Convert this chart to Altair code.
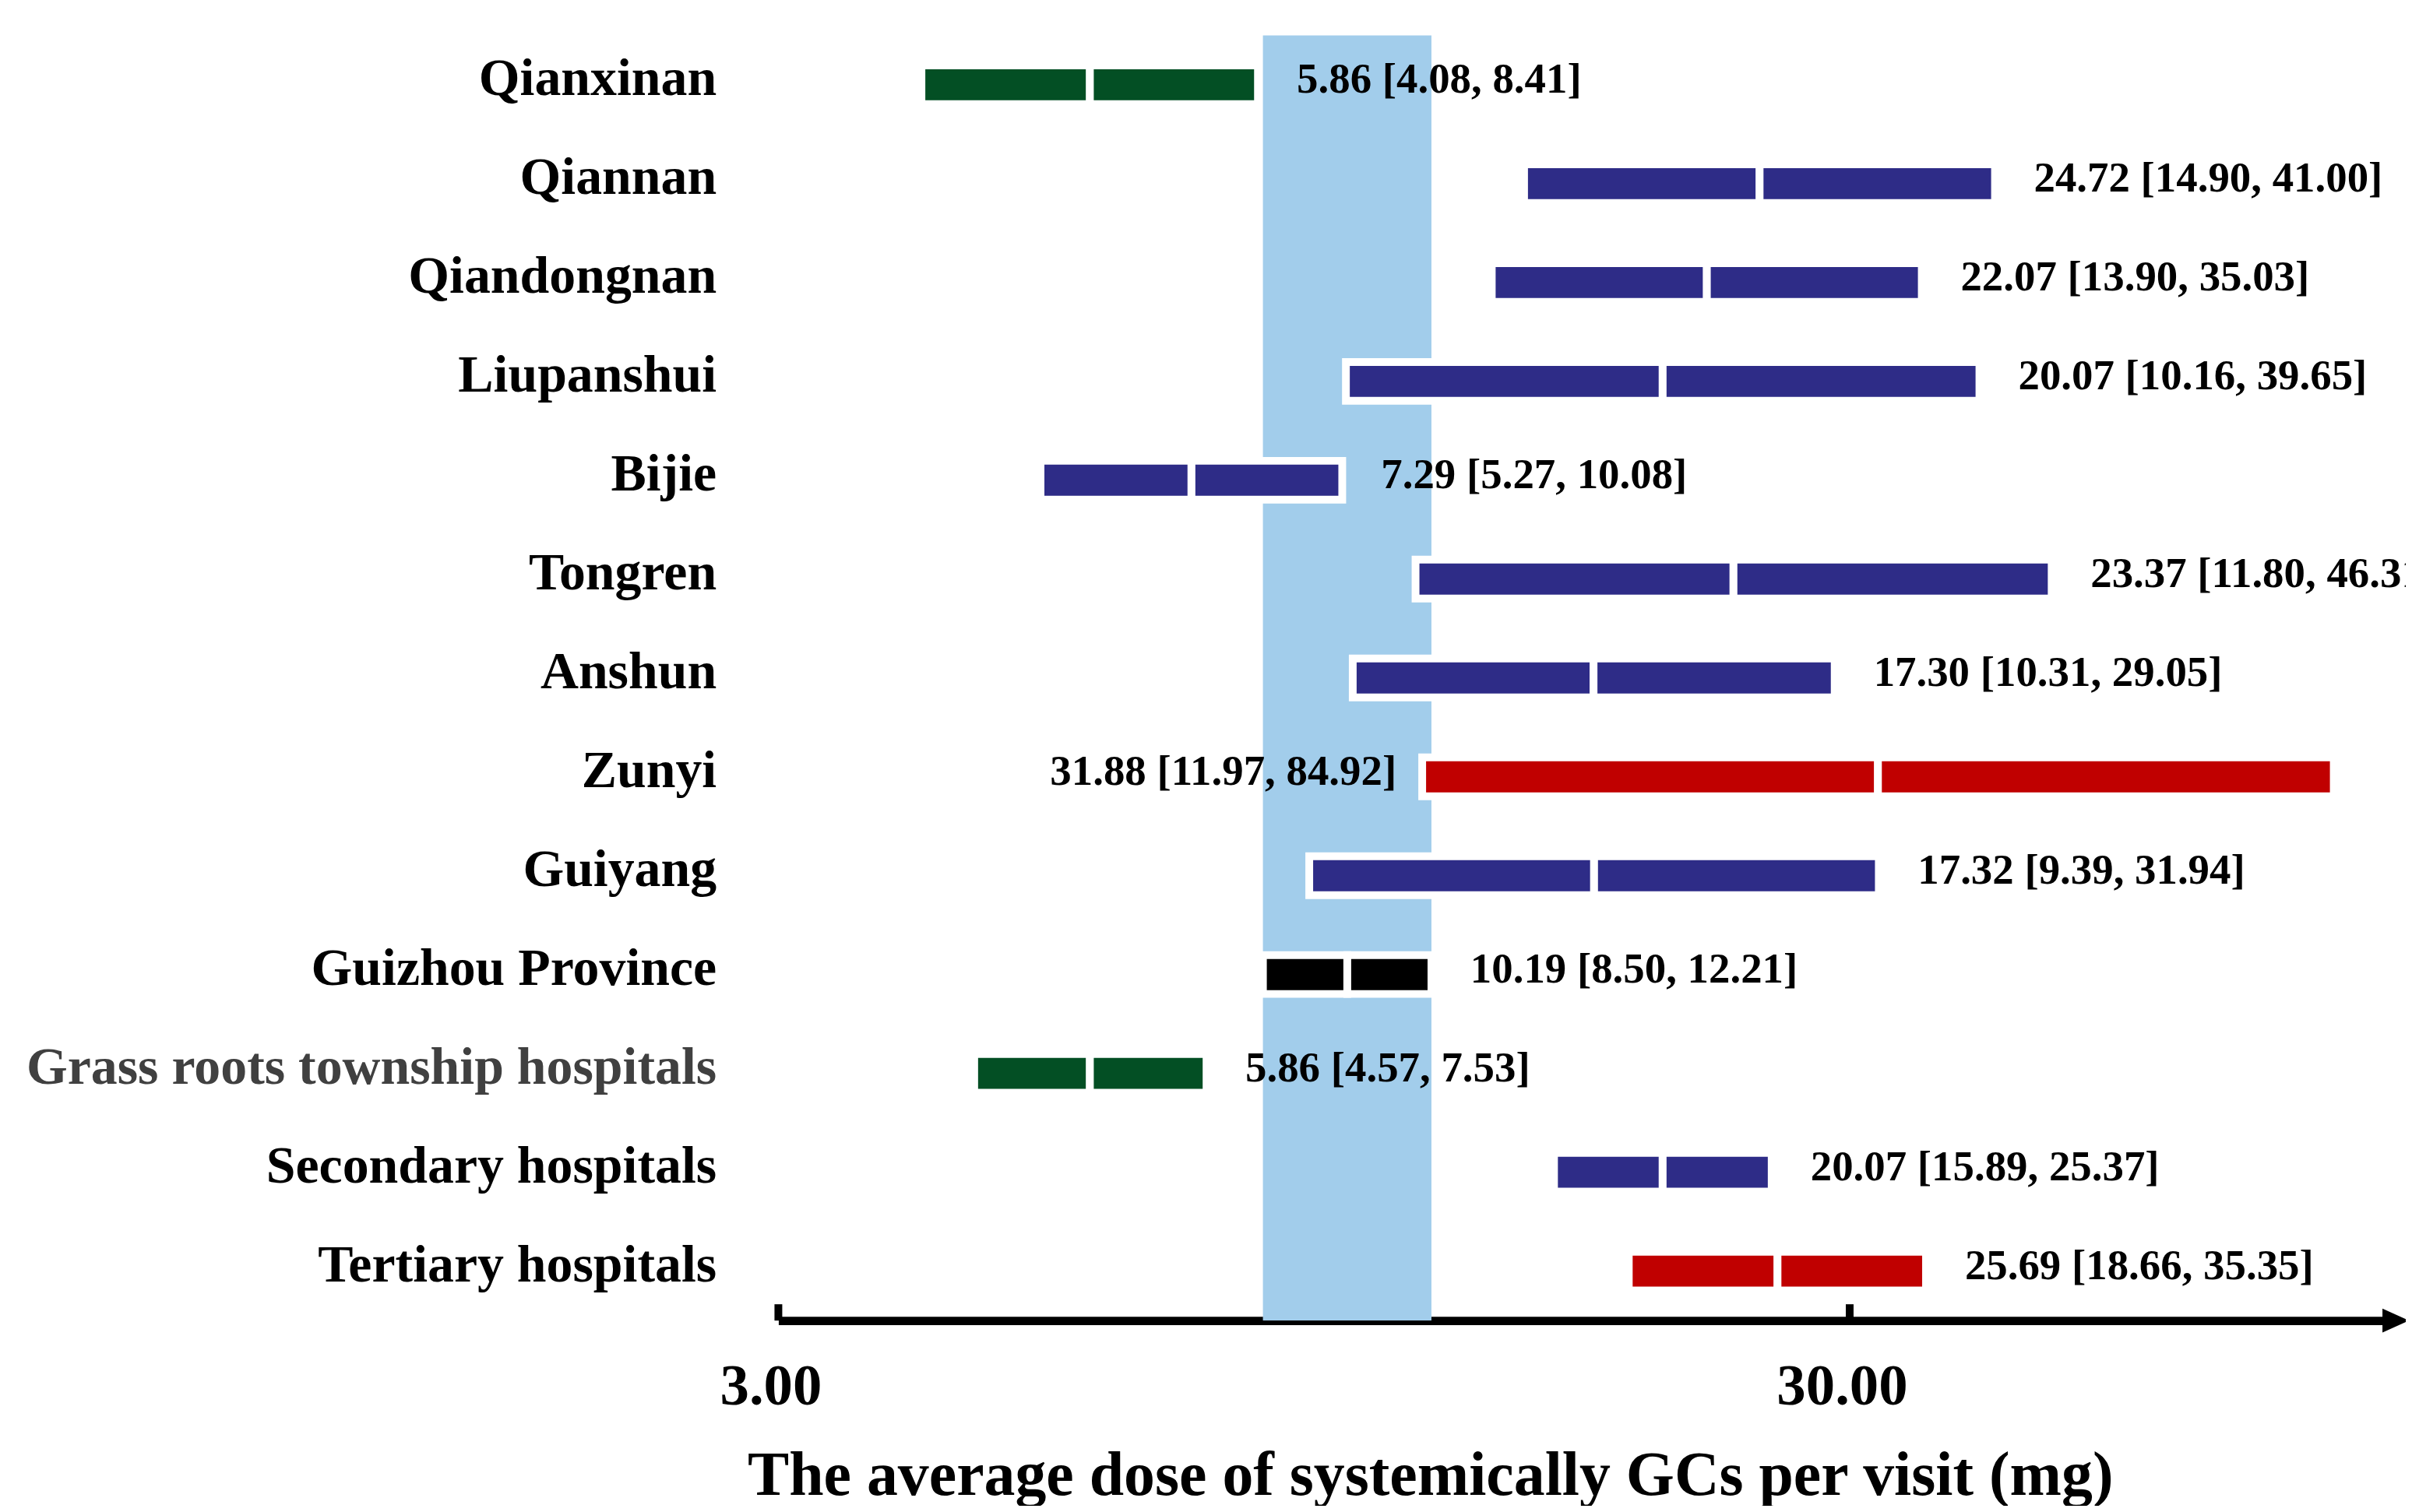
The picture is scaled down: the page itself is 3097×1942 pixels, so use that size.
import altair as alt
import pandas as pd

# ---- data ----
names = ["Qianxinan", "Qiannan", "Qiandongnan", "Liupanshui", "Bijie", "Tongren",
         "Anshun", "Zunyi", "Guiyang", "Guizhou Province",
         "Grass roots township hospitals", "Secondary hospitals", "Tertiary hospitals"]
est = [5.86, 24.72, 22.07, 20.07, 7.29, 23.37, 17.30, 31.88, 17.32, 10.19, 5.86, 20.07, 25.69]
lo = [4.08, 14.90, 13.90, 10.16, 5.27, 11.80, 10.31, 11.97, 9.39, 8.50, 4.57, 15.89, 18.66]
hi = [8.41, 41.00, 35.03, 39.65, 10.08, 46.31, 29.05, 84.92, 31.94, 12.21, 7.53, 25.37, 35.35]
level = ["low", "mid", "mid", "mid", "mid", "mid", "mid", "high", "mid", "overall",
         "low", "mid", "high"]
levels = ["low", "mid", "high", "overall"]
level_colors = ["#034F24", "#2E2C87", "#C00000", "#000000"]
tick_values = [3.0, 30.0]
x_min, x_max = 3.0, 97.0
reference_row = "Guizhou Province"
left_label_row = "Zunyi"
x_title = "The average dose of systemically GCs per visit (mg)"

df = pd.DataFrame({"name": names, "est": est, "lo": lo, "hi": hi, "level": level})
df["label"] = [f"{e:.2f} [{a:.2f}, {b:.2f}]" for e, a, b in zip(est, lo, hi)]

# two halves per row: low -> estimate, estimate -> high
segs = pd.concat([
    pd.DataFrame({"name": names, "s": lo, "e": est, "level": level}),
    pd.DataFrame({"name": names, "s": est, "e": hi, "level": level}),
], ignore_index=True)

FONT = "Liberation Serif"
W, H = 2082, 1655

x_scale = alt.Scale(type="log", domain=[x_min, x_max], nice=False)
x_axis = alt.Axis(
    values=tick_values, format=".2f", title=x_title, grid=False,
    ticks=False, tickSize=0, domain=True, domainColor="#000000", domainWidth=11,
    labelFont=FONT, labelFontSize=75, labelFontWeight="bold", labelColor="#000000",
    labelPadding=108, labelBaseline="alphabetic", labelOffset=-10, labelFlush=False,
    titleFont=FONT, titleFontSize=80, titleFontWeight="bold", titleColor="#000000",
    titleX=839, titleY=224, titleAlign="center", titleBaseline="alphabetic",
    titleLimit=3000,
)
y_scale = alt.Scale(paddingInner=0, paddingOuter=0)
y_axis = alt.Axis(
    title=None, grid=False, domain=False, ticks=False, tickSize=0,
    labelFont=FONT, labelFontSize=68, labelFontWeight="bold",
    labelColor={"condition": {"test": "datum.value == 'Grass roots township hospitals'",
                              "value": "#404040"}, "value": "#000000"},
    labelPadding=80, labelBaseline="alphabetic", labelOffset=13, labelLimit=1500,
)
Y = alt.Y("name:N", sort=names, scale=y_scale, axis=y_axis)

band = alt.Chart(df).transform_filter(
    alt.datum.name == reference_row
).mark_rect(color="#A2CDEB").encode(
    x=alt.X("lo:Q", scale=x_scale, axis=x_axis),
    x2="hi:Q",
)

bars = alt.Chart(segs).mark_bar(size=50, stroke="white", strokeWidth=10).encode(
    x=alt.X("s:Q", scale=x_scale, axis=x_axis),
    x2="e:Q",
    y=Y,
    color=alt.Color("level:N", scale=alt.Scale(domain=levels, range=level_colors), legend=None),
)

labels_right = alt.Chart(df).transform_filter(
    alt.datum.name != left_label_row
).mark_text(align="left", baseline="alphabetic", dx=50, dy=10, font=FONT,
            fontSize=55, fontWeight="bold", color="#000000").encode(
    x=alt.X("hi:Q", scale=x_scale, axis=x_axis),
    y=Y,
    text="label:N",
)

labels_left = alt.Chart(df).transform_filter(
    alt.datum.name == left_label_row
).mark_text(align="right", baseline="alphabetic", dx=-33, dy=10, font=FONT,
            fontSize=55, fontWeight="bold", color="#000000").encode(
    x=alt.X("lo:Q", scale=x_scale, axis=x_axis),
    y=Y,
    text="label:N",
)

ticks = alt.Chart(pd.DataFrame({"t": tick_values})).mark_rule(
    color="#000000", strokeWidth=10
).encode(
    x=alt.X("t:Q", scale=x_scale, axis=x_axis),
    y=alt.value(H - 21),
    y2=alt.value(H),
)

arrow = alt.Chart(pd.DataFrame({"t": [x_max]})).mark_point(
    shape="M-1,-0.91L1,0L-1,0.91Z", size=1156, filled=True, color="#000000",
    opacity=1, strokeWidth=0,
).encode(
    x=alt.X("t:Q", scale=x_scale, axis=x_axis),
    y=alt.value(H),
)

chart = alt.layer(band, bars, ticks, arrow, labels_right, labels_left).properties(
    width=W, height=H,
    padding={"left": 994, "top": 35, "right": 13, "bottom": 236},
    autosize=alt.AutoSizeParams(type="none"),
    background="white",
).configure_view(strokeWidth=0)

chart.save("out.html", embed_options={"renderer": "svg", "actions": False})
